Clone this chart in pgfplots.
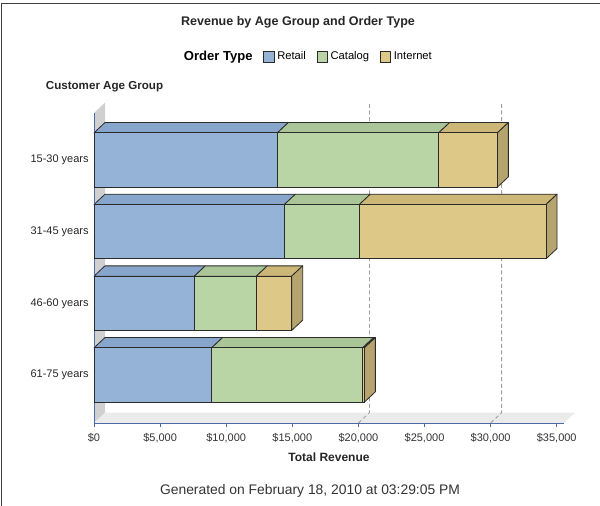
\documentclass[border=0pt]{standalone}
\usepackage{pgfplots}
\pgfplotsset{compat=1.18}
\usepackage{fontspec}
\setmainfont{Liberation Sans}
\definecolor{retail}{HTML}{95B3D7}
\definecolor{retailtop}{HTML}{88A6CB}
\definecolor{catalog}{HTML}{B9D4A5}
\definecolor{catalogtop}{HTML}{AAC597}
\definecolor{internet}{HTML}{DDC887}
\definecolor{internettop}{HTML}{CCB776}
\definecolor{internetside}{HTML}{B5A46E}
\definecolor{axisblue}{HTML}{4A6AA8}
\definecolor{wallgray}{HTML}{D0D0D0}
\definecolor{floorgray}{HTML}{EBEBEB}
\definecolor{edge}{HTML}{2B2B2B}
\begin{document}
\begin{tikzpicture}
\useasboundingbox (0,0) rectangle (450pt,-379.5pt);
\draw[black!75, line width=0.75pt] (1pt,-379.5pt) -- (1pt,-3pt) -- (450pt,-3pt);
\node[font=\bfseries\fontsize{9.4}{11}\selectfont, text=black!85] at (223.5pt,-16.5pt) {Revenue by Age Group and Order Type};
\node[font=\bfseries\fontsize{8.7}{10}\selectfont, text=black!85] at (78.4pt,-65.25pt) {Customer Age Group};
\node[font=\fontsize{10.4}{12}\selectfont, text=black!80] at (232.5pt,-368.25pt) {Generated on February 18, 2010 at 03:29:05 PM};

\pgfplotsset{common/.style={scale only axis, width=352.5pt, height=232.5pt,
  at={(70.5pt,-317.25pt)}, anchor=south west,
  xmin=0, xmax=35550, ymin=-0.670, ymax=3.656, clip=false}}

% background (wall, floor, reference lines) and 3D faces
\begin{axis}[common, hide axis]
\addplot[fill=wallgray, draw=none] coordinates {(0,-0.670)(0,3.656)(832,3.800)(832,-0.526)} -- cycle;
\addplot[fill=floorgray, draw=none] coordinates {(0,-0.670)(35550,-0.670)(36382,-0.526)(832,-0.526)} -- cycle;
\addplot[gray!75, line width=0.6pt, dash pattern=on 3pt off 2pt] coordinates {(20000,-0.670)(20832,-0.526)(20832,3.800)};
\addplot[gray!75, line width=0.6pt, dash pattern=on 3pt off 2pt] coordinates {(30000,-0.670)(30832,-0.526)(30832,3.800)};
\pgfplotsset{every axis plot/.append style={draw=edge, line width=0.6pt, line join=round}}
% 15-30 years
\addplot[fill=retailtop] coordinates {(0,3.379)(13870,3.379)(14702,3.523)(832,3.523)} -- cycle;
\addplot[fill=catalogtop] coordinates {(13870,3.379)(26070,3.379)(26902,3.523)(14702,3.523)} -- cycle;
\addplot[fill=internettop] coordinates {(26070,3.379)(30510,3.379)(31342,3.523)(26902,3.523)} -- cycle;
\addplot[fill=internetside] coordinates {(30510,2.621)(30510,3.379)(31342,3.523)(31342,2.765)} -- cycle;
% 31-45 years
\addplot[fill=retailtop] coordinates {(0,2.379)(14400,2.379)(15232,2.523)(832,2.523)} -- cycle;
\addplot[fill=catalogtop] coordinates {(14400,2.379)(20070,2.379)(20902,2.523)(15232,2.523)} -- cycle;
\addplot[fill=internettop] coordinates {(20070,2.379)(34190,2.379)(35022,2.523)(20902,2.523)} -- cycle;
\addplot[fill=internetside] coordinates {(34190,1.621)(34190,2.379)(35022,2.523)(35022,1.765)} -- cycle;
% 46-60 years
\addplot[fill=retailtop] coordinates {(0,1.379)(7590,1.379)(8422,1.523)(832,1.523)} -- cycle;
\addplot[fill=catalogtop] coordinates {(7590,1.379)(12280,1.379)(13112,1.523)(8422,1.523)} -- cycle;
\addplot[fill=internettop] coordinates {(12280,1.379)(14950,1.379)(15782,1.523)(13112,1.523)} -- cycle;
\addplot[fill=internetside] coordinates {(14950,0.621)(14950,1.379)(15782,1.523)(15782,0.765)} -- cycle;
% 61-75 years
\addplot[fill=retailtop] coordinates {(0,0.379)(8900,0.379)(9732,0.523)(832,0.523)} -- cycle;
\addplot[fill=catalogtop] coordinates {(8900,0.379)(20320,0.379)(21152,0.523)(9732,0.523)} -- cycle;
\addplot[fill=internettop] coordinates {(20320,0.379)(20450,0.379)(21282,0.523)(21152,0.523)} -- cycle;
\addplot[fill=internetside] coordinates {(20450,-0.379)(20450,0.379)(21282,0.523)(21282,-0.235)} -- cycle;
\end{axis}

% front faces of the stacked bars
\begin{axis}[common, xbar stacked, bar width=0.758,
  axis x line*=bottom, axis y line*=left,
  axis line style={axisblue, line width=0.75pt},
  tick align=outside, major tick length=3pt,
  xtick={0,5000,...,35000}, scaled x ticks=false,
  /pgf/number format/assume math mode=true,
  /pgf/number format/1000 sep={,},
  xticklabel={\$\pgfmathprintnumber[fixed]{\tick}},
  xtick style={axisblue, line width=0.75pt},
  xticklabel style={font=\fontsize{8.25}{10}\selectfont, text=black!80, yshift=-1.5pt},
  ytick={0,1,2,3},
  yticklabels={61-75 years,46-60 years,31-45 years,15-30 years},
  ytick style={draw=none},
  yticklabel style={font=\fontsize{8.25}{10}\selectfont, text=black!85, xshift=2.5pt},
  xlabel={Total Revenue},
  xlabel style={font=\bfseries\fontsize{9}{10}\selectfont, text=black!85,
    at={(axis description cs:0.5,0)}, anchor=center, yshift=-25.5pt},
  legend style={at={(axis description cs:0.455,1.181)}, anchor=center,
    draw=none, fill=none, legend columns=-1,
    font=\fontsize{8.4}{10}\selectfont,
    /tikz/every even column/.append style={column sep=6pt}},
  legend image code/.code={\draw[#1] (0pt,-3.9pt) rectangle (7.9pt,3.9pt);}
]
\addlegendimage{empty legend}
\addlegendentry{\bfseries\fontsize{9.8}{11}\selectfont Order Type}
\addplot[fill=retail, draw=edge, line width=0.6pt] coordinates {(8900,0)(7590,1)(14400,2)(13870,3)};
\addlegendentry{Retail}
\addplot[fill=catalog, draw=edge, line width=0.6pt] coordinates {(11420,0)(4690,1)(5670,2)(12200,3)};
\addlegendentry{Catalog}
\addplot[fill=internet, draw=edge, line width=0.6pt] coordinates {(130,0)(2670,1)(14120,2)(4440,3)};
\addlegendentry{Internet}
\end{axis}
\end{tikzpicture}
\end{document}
